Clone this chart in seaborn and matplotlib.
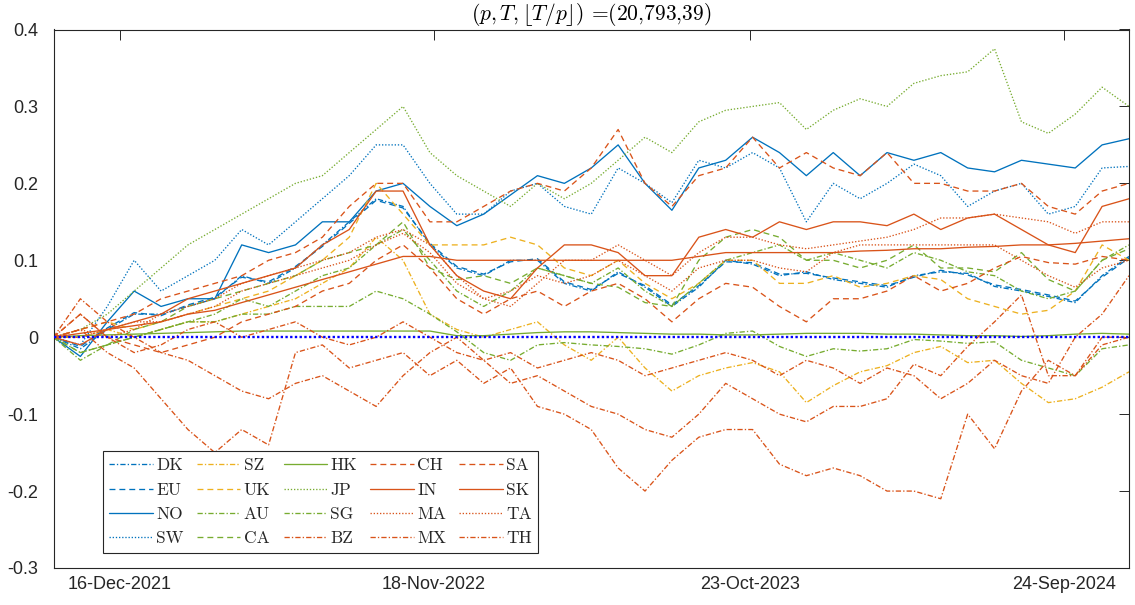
import numpy as np
import pandas as pd
import matplotlib
matplotlib.use('Agg')
import matplotlib.pyplot as plt
import seaborn as sns

# sample dates (at ~27 px steps)
start, end = '2021-10-06', '2024-12-03'
n_pts = 41
dates = pd.date_range(start, end, periods=n_pts)

tick_dates = ['2021-12-16', '2022-11-18', '2023-10-23', '2024-09-24']

# blue group
DK = [0, -0.015, 0.01, 0.03, 0.03, 0.04, 0.05, 0.08, 0.07, 0.09, 0.12, 0.15, 0.18, 0.17, 0.12, 0.09, 0.08, 0.10, 0.10, 0.07,
      0.06, 0.085, 0.065, 0.04, 0.065, 0.10, 0.095, 0.08, 0.085, 0.075, 0.07, 0.065, 0.08, 0.085, 0.083, 0.066, 0.06, 0.053, 0.045, 0.08, 0.105]
EU = [0, -0.012, 0.012, 0.032, 0.028, 0.042, 0.052, 0.078, 0.072, 0.092, 0.118, 0.148, 0.178, 0.168, 0.122, 0.092, 0.082, 0.098, 0.102, 0.072,
      0.062, 0.083, 0.067, 0.042, 0.067, 0.098, 0.097, 0.082, 0.083, 0.077, 0.072, 0.067, 0.078, 0.087, 0.081, 0.068, 0.062, 0.055, 0.047, 0.078, 0.103]
NO = [0, -0.025, 0.02, 0.06, 0.04, 0.05, 0.05, 0.12, 0.11, 0.12, 0.15, 0.15, 0.19, 0.20, 0.17, 0.145, 0.16, 0.185, 0.21, 0.20,
      0.22, 0.25, 0.20, 0.165, 0.22, 0.23, 0.26, 0.24, 0.21, 0.24, 0.21, 0.24, 0.23, 0.24, 0.22, 0.215, 0.23, 0.225, 0.22, 0.25, 0.258]
SW = [0, -0.01, 0.04, 0.10, 0.06, 0.08, 0.10, 0.14, 0.12, 0.15, 0.18, 0.21, 0.25, 0.25, 0.20, 0.16, 0.16, 0.19, 0.20, 0.17,
      0.16, 0.22, 0.20, 0.175, 0.23, 0.22, 0.24, 0.22, 0.15, 0.20, 0.18, 0.20, 0.225, 0.21, 0.17, 0.19, 0.20, 0.16, 0.17, 0.22, 0.222]
# yellow group
SZ = [0, 0.0, 0.01, 0.0, 0.01, 0.02, 0.02, 0.03, 0.04, 0.05, 0.07, 0.09, 0.13, 0.10, 0.03, 0.01, 0.0, 0.01, 0.02, -0.01,
      -0.03, 0.0, -0.04, -0.07, -0.05, -0.04, -0.033, -0.045, -0.085, -0.063, -0.045, -0.037, -0.02, -0.012, -0.033, -0.03, -0.06, -0.085, -0.08, -0.065, -0.045]
UK = [0, 0.01, 0.02, 0.01, 0.02, 0.03, 0.04, 0.05, 0.06, 0.08, 0.10, 0.13, 0.20, 0.16, 0.12, 0.12, 0.12, 0.13, 0.12, 0.09,
      0.08, 0.10, 0.07, 0.05, 0.07, 0.10, 0.10, 0.07, 0.07, 0.08, 0.065, 0.07, 0.08, 0.075, 0.05, 0.04, 0.03, 0.035, 0.06, 0.12, 0.10]
# green group
AU = [0, -0.02, -0.01, 0.0, 0.01, 0.02, 0.03, 0.05, 0.04, 0.06, 0.08, 0.09, 0.12, 0.14, 0.10, 0.06, 0.04, 0.06, 0.09, 0.08,
      0.07, 0.09, 0.06, 0.04, 0.07, 0.10, 0.11, 0.12, 0.10, 0.11, 0.10, 0.09, 0.11, 0.10, 0.085, 0.08, 0.06, 0.05, 0.06, 0.10, 0.12]
CA = [0, -0.02, -0.01, 0.01, 0.02, 0.04, 0.05, 0.06, 0.07, 0.08, 0.10, 0.11, 0.12, 0.15, 0.09, 0.075, 0.08, 0.07, 0.09, 0.08,
      0.07, 0.065, 0.045, 0.04, 0.10, 0.13, 0.14, 0.13, 0.10, 0.10, 0.09, 0.10, 0.12, 0.09, 0.09, 0.085, 0.11, 0.075, 0.06, 0.10, 0.115]
HK = [0, 0.002, 0.003, 0.004, 0.005, 0.006, 0.007, 0.008, 0.008, 0.008, 0.008, 0.008, 0.008, 0.008, 0.008, 0.002, 0.002, 0.004, 0.006, 0.007,
      0.007, 0.006, 0.005, 0.004, 0.004, 0.003, 0.003, 0.004, 0.005, 0.005, 0.005, 0.004, 0.004, 0.003, 0.002, 0.002, 0.001, 0.002, 0.004, 0.005, 0.004]
JP = [0, 0.01, 0.03, 0.06, 0.09, 0.12, 0.14, 0.16, 0.18, 0.20, 0.21, 0.24, 0.27, 0.30, 0.24, 0.21, 0.19, 0.17, 0.20, 0.18,
      0.20, 0.23, 0.26, 0.24, 0.28, 0.295, 0.30, 0.305, 0.27, 0.295, 0.31, 0.30, 0.33, 0.34, 0.345, 0.375, 0.28, 0.265, 0.29, 0.325, 0.30]
SG = [0, -0.03, -0.01, 0.0, 0.01, 0.02, 0.02, 0.03, 0.03, 0.04, 0.04, 0.04, 0.06, 0.05, 0.03, 0.007, -0.02, -0.03, -0.01, -0.007,
      -0.01, -0.012, -0.015, -0.022, -0.01, 0.005, 0.008, -0.012, -0.025, -0.015, -0.018, -0.015, -0.003, -0.005, -0.008, -0.006, -0.03, -0.04, -0.05, -0.015, -0.01]
# orange group
BZ = [0, 0.01, -0.02, -0.04, -0.08, -0.12, -0.15, -0.12, -0.14, -0.02, -0.01, -0.04, -0.03, -0.02, -0.05, -0.03, -0.06, -0.04, -0.09, -0.10,
      -0.12, -0.17, -0.20, -0.16, -0.13, -0.12, -0.12, -0.165, -0.18, -0.17, -0.18, -0.20, -0.20, -0.21, -0.10, -0.145, -0.07, -0.03, -0.05, 0.0, 0.0]
CH = [0, 0.01, 0.02, 0.03, 0.05, 0.06, 0.07, 0.08, 0.10, 0.11, 0.13, 0.17, 0.20, 0.20, 0.15, 0.15, 0.17, 0.19, 0.20, 0.19,
      0.22, 0.27, 0.20, 0.17, 0.21, 0.22, 0.26, 0.22, 0.24, 0.22, 0.21, 0.24, 0.20, 0.20, 0.19, 0.19, 0.20, 0.17, 0.16, 0.19, 0.20]
IN = [0, 0.005, 0.01, 0.015, 0.02, 0.03, 0.035, 0.045, 0.055, 0.065, 0.075, 0.085, 0.095, 0.105, 0.105, 0.1, 0.1, 0.1, 0.1, 0.1,
      0.1, 0.1, 0.1, 0.1, 0.105, 0.11, 0.11, 0.11, 0.11, 0.11, 0.112, 0.113, 0.115, 0.115, 0.117, 0.118, 0.12, 0.12, 0.122, 0.125, 0.128]
MA = [0, 0.0, 0.01, 0.02, 0.02, 0.03, 0.04, 0.06, 0.07, 0.08, 0.09, 0.10, 0.12, 0.135, 0.11, 0.07, 0.05, 0.06, 0.08, 0.07,
      0.08, 0.10, 0.08, 0.06, 0.09, 0.10, 0.10, 0.09, 0.085, 0.11, 0.12, 0.12, 0.12, 0.12, 0.12, 0.12, 0.10, 0.08, 0.065, 0.09, 0.10]
MX = [0, 0.05, 0.02, 0.0, -0.02, -0.03, -0.05, -0.07, -0.08, -0.06, -0.05, -0.07, -0.09, -0.05, -0.02, 0.0, -0.03, -0.06, -0.05, -0.07,
      -0.09, -0.10, -0.12, -0.13, -0.10, -0.06, -0.08, -0.10, -0.11, -0.09, -0.09, -0.08, -0.035, -0.05, -0.012, 0.02, 0.055, -0.05, -0.05, -0.01, 0.0]
SA = [0, 0.03, 0.0, -0.01, -0.02, -0.01, 0.0, 0.02, 0.03, 0.04, 0.06, 0.07, 0.10, 0.12, 0.09, 0.05, 0.03, 0.05, 0.06, 0.04,
      0.06, 0.07, 0.05, 0.02, 0.05, 0.07, 0.065, 0.04, 0.02, 0.05, 0.05, 0.06, 0.08, 0.06, 0.07, 0.09, 0.105, 0.097, 0.095, 0.105, 0.10]
SK = [0, -0.01, 0.01, 0.02, 0.03, 0.05, 0.06, 0.07, 0.08, 0.09, 0.12, 0.14, 0.19, 0.19, 0.12, 0.08, 0.06, 0.05, 0.09, 0.12,
      0.12, 0.11, 0.08, 0.08, 0.13, 0.14, 0.13, 0.15, 0.14, 0.15, 0.15, 0.145, 0.16, 0.14, 0.155, 0.16, 0.14, 0.12, 0.11, 0.17, 0.18]
TA = [0, 0.01, 0.0, 0.01, 0.03, 0.04, 0.05, 0.07, 0.08, 0.09, 0.10, 0.11, 0.13, 0.14, 0.12, 0.08, 0.05, 0.04, 0.07, 0.10,
      0.10, 0.12, 0.10, 0.08, 0.11, 0.13, 0.13, 0.12, 0.115, 0.12, 0.125, 0.13, 0.14, 0.155, 0.155, 0.16, 0.155, 0.15, 0.135, 0.15, 0.15]
TH = [0, 0.03, 0.0, -0.02, -0.01, 0.01, 0.02, 0.0, 0.01, 0.02, 0.0, -0.01, 0.0, 0.02, 0.0, -0.02, -0.03, -0.02, -0.04, -0.03,
      -0.02, -0.03, -0.05, -0.04, -0.03, -0.02, -0.03, -0.05, -0.03, -0.04, -0.06, -0.04, -0.05, -0.08, -0.06, -0.03, -0.05, -0.06, 0.0, 0.03, 0.08]

names = ['DK', 'EU', 'NO', 'SW', 'SZ', 'UK', 'AU', 'CA', 'HK', 'JP',
         'SG', 'BZ', 'CH', 'IN', 'MA', 'MX', 'SA', 'SK', 'TA', 'TH']
values = [DK, EU, NO, SW, SZ, UK, AU, CA, HK, JP,
          SG, BZ, CH, IN, MA, MX, SA, SK, TA, TH]

# matlab default colours
blue, yellow, green, orange = '#0072BD', '#EDB120', '#77AC30', '#D95319'
groups = [blue] * 4 + [yellow] * 2 + [green] * 5 + [orange] * 9
pal = dict(zip(names, groups))

dd = (4, 1.6, 1, 1.6)    # dash-dot
ds = (4.5, 3)            # dashed
dt = (1, 1.4)            # dotted
styles = [dd, ds, '', dt, dd, ds, dd, ds, '', dt,
          dd, dd, ds, '', dt, dd, ds, '', dt, dd]
dash = dict(zip(names, styles))

df = pd.concat([pd.DataFrame({'date': dates, 'value': v, 'cty': k})
                for k, v in zip(names, values)], ignore_index=True)

sns.set_theme(style='white')
plt.rcParams['font.family'] = ['Liberation Sans', 'DejaVu Sans']
plt.rcParams['mathtext.fontset'] = 'cm'

fig, ax = plt.subplots(figsize=(11.35, 6.05), dpi=100)
fig.subplots_adjust(left=53.5 / 1135, right=1129 / 1135, bottom=1 - 568 / 605, top=1 - 29.5 / 605)

sns.lineplot(data=df, x='date', y='value', hue='cty', style='cty',
             hue_order=names, style_order=names, palette=pal, dashes=dash,
             linewidth=0.95, estimator=None, sort=False, ax=ax)

# zero reference line
ax.axhline(0, color='#0000FF', ls=(0, (1, 1)), lw=1.7, zorder=5)

ax.set_xlim(pd.Timestamp(start), pd.Timestamp(end))
ax.set_ylim(-0.3, 0.4)
td = pd.to_datetime(tick_dates)
ax.set_xticks(td)
ax.set_xticklabels([d.strftime('%d-%b-%Y') for d in td])
yt = np.round(np.arange(-0.3, 0.41, 0.1), 1)
ax.set_yticks(yt)
ax.set_yticklabels(['0' if v == 0 else f'{v:g}' for v in yt])
ax.set_xlabel('')
ax.set_ylabel('')

for s in ax.spines.values():
    s.set_visible(True)
    s.set_color('#262626')
    s.set_linewidth(0.8)
ax.tick_params(direction='in', length=7, width=0.7, colors='#262626',
               top=True, right=True, labelsize=13)
ax.tick_params(axis='x', pad=6)
ax.tick_params(axis='y', pad=11)

ax.set_title(r'$(p,T,\lfloor T/p\rfloor)$ =(20,793,39)', fontfamily='cmr10',
             fontsize=15.5, pad=7, color='#000000')

h, l = ax.get_legend_handles_labels()
leg = ax.legend(h, l, ncol=5, loc='lower left', bbox_to_anchor=(0.0457, 0.028),
                borderaxespad=0, frameon=True, fancybox=False, framealpha=1,
                edgecolor='#262626', prop={'family': 'cmr10', 'size': 12.5},
                handlelength=2.5, handletextpad=0.2, columnspacing=0.76,
                labelspacing=0.52, borderpad=0.38)
leg.get_frame().set_linewidth(0.8)

plt.savefig('out.png', dpi=100)
